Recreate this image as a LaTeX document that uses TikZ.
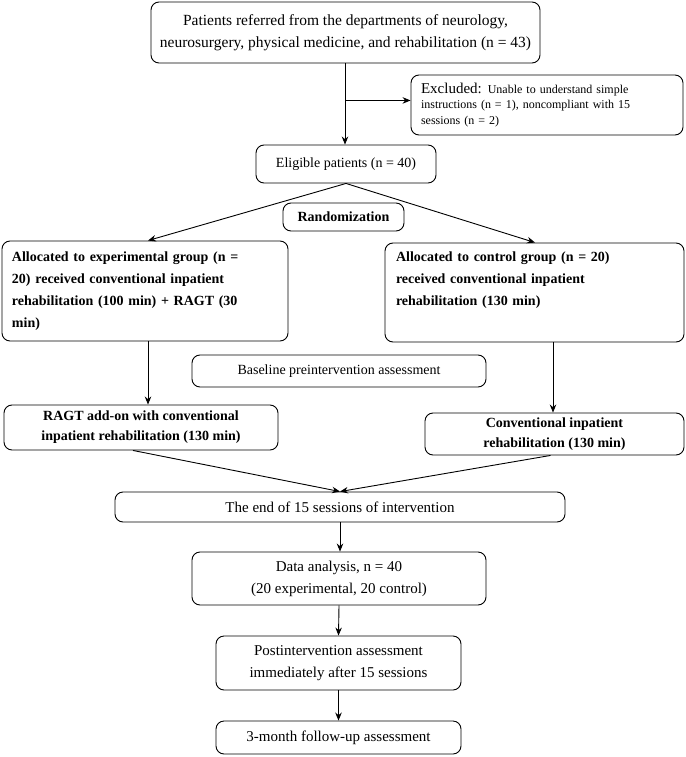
\documentclass[tikz,border=0pt]{standalone}
\usepackage{fontspec}
\setmainfont{Liberation Serif}
\usetikzlibrary{arrows.meta,calc}
\begin{document}
\begin{tikzpicture}[x=1pt,y=-1pt,
  box/.style={draw, line width=0.9pt, rounded corners=8pt, inner sep=0pt, align=center, font=\fontsize{14}{20}\selectfont},
  arr/.style={line width=0.9pt, -{Stealth[length=8pt,width=6.5pt]}},
  ln/.style={line width=0.9pt}]
\useasboundingbox (0,0) rectangle (685,757);
\node[box, minimum width=389pt, minimum height=61pt, font=\fontsize{15.5}{22}\selectfont] (top) at (345.5,32.5)
  {Patients referred from the departments of neurology,\\neurosurgery, physical medicine, and rehabilitation (n = 43)};
\node[box, minimum width=272pt, minimum height=60pt, align=left, text width=252pt, font=\fontsize{12}{15.5}\selectfont] (excl) at (547,105)
  {{\fontsize{15}{15.5}\selectfont Excluded:} Unable to understand simple\\instructions (n = 1), noncompliant with 15\\sessions (n = 2)};
\node[box, minimum width=180pt, minimum height=38pt] (elig) at (346,164) {Eligible patients (n = 40)};
\node[box, minimum width=121pt, minimum height=28pt, font=\fontsize{14}{20}\selectfont\bfseries] (rand) at (343.5,217) {Randomization};
\node[box, minimum width=286pt, minimum height=100pt, align=left, text width=266pt, font=\fontsize{14}{22}\selectfont\bfseries] (left) at (145,291)
  {Allocated to experimental group (n =\\20) received conventional inpatient\\rehabilitation (100 min) + RAGT (30\\min)};
\node[box, minimum width=299pt, minimum height=99pt, align=left, text width=277pt, font=\fontsize{14}{22}\selectfont\bfseries] (right) at (534.5,292.5)
  {Allocated to control group (n = 20)\\received conventional inpatient\\rehabilitation (130 min)\\[5pt]\mbox{}};
\node[box, minimum width=294pt, minimum height=32pt] (base) at (339,371) {Baseline preintervention assessment};
\node[box, minimum width=274pt, minimum height=45pt, font=\fontsize{14}{20}\selectfont\bfseries] (ragt) at (141,427.5)
  {RAGT add-on with conventional\\inpatient rehabilitation (130 min)};
\node[box, minimum width=259pt, minimum height=42pt, font=\fontsize{14}{20}\selectfont\bfseries] (conv) at (554.5,434)
  {Conventional inpatient\\rehabilitation (130 min)};
\node[box, minimum width=450pt, minimum height=30pt, font=\fontsize{15}{20}\selectfont] (endb) at (340,507) {The end of 15 sessions of intervention};
\node[box, minimum width=294pt, minimum height=53pt, font=\fontsize{15}{22}\selectfont] (data) at (339,578.5) {Data analysis, n = 40\\(20 experimental, 20 control)};
\node[box, minimum width=245pt, minimum height=54pt, font=\fontsize{15}{22}\selectfont] (post) at (338.5,663) {Postintervention assessment\\immediately after 15 sessions};
\node[box, minimum width=245pt, minimum height=33pt, font=\fontsize{15}{20}\selectfont] (fu) at (338.5,737.5) {3-month follow-up assessment};
% connectors
\coordinate (tb) at ($(top.south)+(-0.5,0)$);
\coordinate (br) at ($(tb)+(0,37)$);
\coordinate (ls) at ($(left.south)+(3,0)$);
\coordinate (rs) at ($(conv.north)+(-1.5,0)$);
\coordinate (rgs) at ($(ragt.south)+(-8,0)$);
\coordinate (cvs) at ($(conv.south)+(-4,0)$);
\draw[arr] (tb) -- (tb |- elig.north);
\draw[arr] (br) -- (br -| excl.west);
\draw[arr] (elig.south) -- ($(left.north)+(3,0)$);
\draw[arr] (elig.south) -- ($(right.north)+(0.5,0)$);
\draw[arr] (ls) -- (ls |- ragt.north);
\draw[arr] (rs |- right.south) -- (rs);
\draw[arr] (rgs) -- (endb.north);
\draw[arr] (cvs) -- (endb.north);
\draw[arr] (endb.south) -- (endb.south |- data.north);
\draw[arr] (data.south) -- (post.north);
\draw[arr] (post.south) -- (fu.north);
\end{tikzpicture}
\end{document}
